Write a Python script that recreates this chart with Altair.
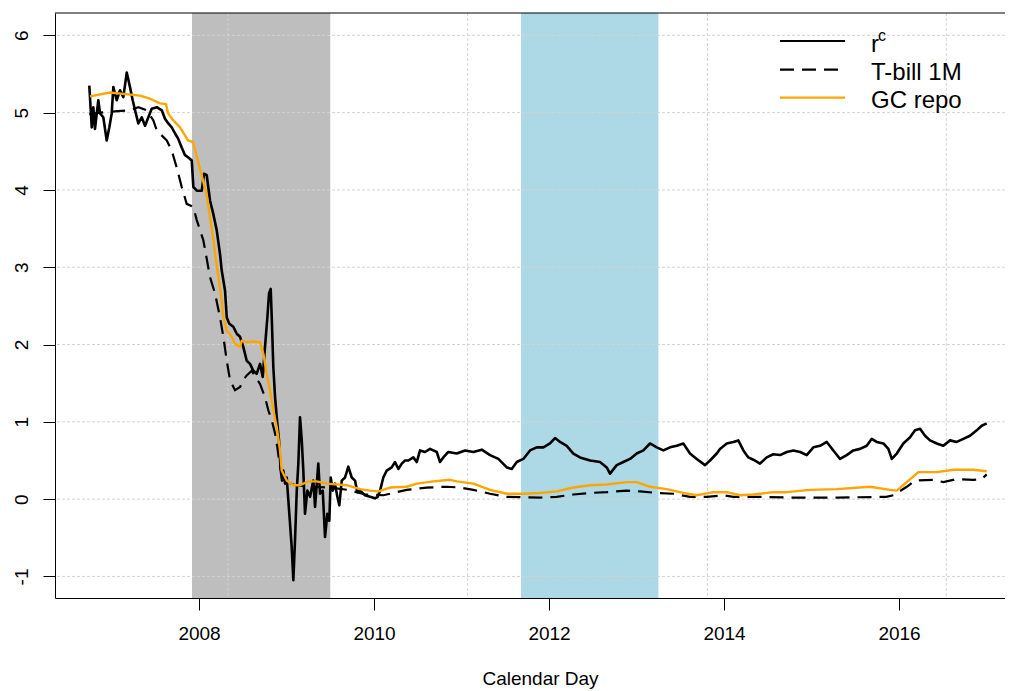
import altair as alt
import pandas as pd

# ---------------- data (decimal years, percent) ----------------
rc_x = [2006.746, 2006.774, 2006.792, 2006.811, 2006.849, 2006.869, 2006.906, 2006.945, 2006.975, 2007.002,
        2007.021, 2007.059, 2007.097, 2007.135, 2007.174, 2007.211, 2007.242, 2007.269, 2007.306, 2007.345,
        2007.383, 2007.421, 2007.459, 2007.517, 2007.574, 2007.611, 2007.649, 2007.688, 2007.726, 2007.763,
        2007.802, 2007.840, 2007.878, 2007.917, 2007.935, 2007.974, 2008.031, 2008.057, 2008.088, 2008.126,
        2008.163, 2008.202, 2008.240, 2008.259, 2008.297, 2008.317, 2008.346, 2008.392, 2008.431, 2008.469,
        2008.506, 2008.545, 2008.583, 2008.621, 2008.659, 2008.697, 2008.728, 2008.754, 2008.781, 2008.800,
        2008.819, 2008.831, 2008.849, 2008.869, 2008.888, 2008.914, 2008.931, 2008.949, 2008.963, 2008.983,
        2009.002, 2009.032, 2009.059, 2009.078, 2009.097, 2009.117, 2009.135, 2009.154, 2009.174, 2009.192,
        2009.211, 2009.238, 2009.269, 2009.306, 2009.326, 2009.363, 2009.383, 2009.414, 2009.440, 2009.466,
        2009.489, 2009.505, 2009.528, 2009.554, 2009.581, 2009.603, 2009.631, 2009.669, 2009.706, 2009.745,
        2009.783, 2009.809, 2009.840, 2009.897, 2009.954, 2010.011, 2010.042, 2010.069, 2010.106, 2010.145,
        2010.202, 2010.240, 2010.278, 2010.317, 2010.354, 2010.392, 2010.449, 2010.488, 2010.526, 2010.583,
        2010.640, 2010.717, 2010.754, 2010.792, 2010.831, 2010.849, 2010.945, 2011.040, 2011.135, 2011.231,
        2011.326, 2011.421, 2011.517, 2011.574, 2011.631, 2011.706, 2011.783, 2011.859, 2011.935, 2012.011,
        2012.069, 2012.126, 2012.202, 2012.278, 2012.354, 2012.469, 2012.583, 2012.659, 2012.697, 2012.774,
        2012.849, 2012.926, 2013.002, 2013.078, 2013.154, 2013.231, 2013.306, 2013.383, 2013.459, 2013.535,
        2013.611, 2013.688, 2013.783, 2013.840, 2013.917, 2013.954, 2014.031, 2014.106, 2014.163, 2014.221,
        2014.278, 2014.335, 2014.411, 2014.488, 2014.563, 2014.640, 2014.717, 2014.792, 2014.869, 2014.945,
        2015.021, 2015.097, 2015.174, 2015.249, 2015.326, 2015.402, 2015.478, 2015.554, 2015.631, 2015.688,
        2015.745, 2015.821, 2015.878, 2015.917, 2015.974, 2016.049, 2016.126, 2016.183, 2016.240, 2016.297,
        2016.354, 2016.431, 2016.506, 2016.583, 2016.659, 2016.735, 2016.811, 2016.888, 2016.945, 2017.002]
rc_y = [5.35, 4.81, 5.07, 4.79, 5.16, 4.99, 4.94, 4.64, 4.81, 4.99,
        5.33, 5.16, 5.29, 5.20, 5.52, 5.33, 5.16, 5.03, 4.86, 4.94,
        4.83, 4.94, 5.05, 5.07, 5.03, 4.92, 4.86, 4.81, 4.73, 4.66,
        4.55, 4.45, 4.42, 4.38, 4.04, 3.99, 3.99, 4.21, 4.19, 3.86,
        3.69, 3.48, 3.17, 2.96, 2.70, 2.35, 2.27, 2.23, 2.14, 2.10,
        1.97, 1.79, 1.75, 1.66, 1.62, 1.75, 1.58, 1.97, 2.35, 2.66,
        2.72, 2.35, 1.71, 1.32, 1.06, 0.76, 0.40, 0.24, 0.37, 0.20,
        0.28, -0.19, -0.62, -1.05, -0.53, 0.11, 0.46, 1.06, 0.76, 0.37,
        -0.19, 0.11, 0.03, 0.24, -0.10, 0.46, 0.07, 0.11, -0.49, -0.19,
        -0.28, 0.28, 0.11, 0.20, 0.03, -0.08, 0.24, 0.28, 0.42, 0.28,
        0.24, 0.09, 0.11, 0.05, 0.03, 0.01, 0.03, 0.11, 0.28, 0.37,
        0.41, 0.48, 0.39, 0.46, 0.50, 0.50, 0.54, 0.48, 0.63, 0.61,
        0.65, 0.61, 0.48, 0.54, 0.59, 0.61, 0.59, 0.63, 0.61, 0.64,
        0.57, 0.52, 0.41, 0.39, 0.48, 0.52, 0.63, 0.67, 0.67, 0.72,
        0.79, 0.74, 0.69, 0.59, 0.54, 0.50, 0.48, 0.41, 0.33, 0.44,
        0.48, 0.52, 0.59, 0.63, 0.72, 0.67, 0.63, 0.67, 0.69, 0.72,
        0.59, 0.52, 0.44, 0.50, 0.59, 0.65, 0.72, 0.74, 0.76, 0.63,
        0.54, 0.51, 0.46, 0.54, 0.58, 0.57, 0.61, 0.63, 0.61, 0.57,
        0.67, 0.69, 0.74, 0.63, 0.52, 0.57, 0.63, 0.65, 0.69, 0.78,
        0.74, 0.72, 0.65, 0.52, 0.59, 0.72, 0.80, 0.89, 0.91, 0.82,
        0.76, 0.72, 0.69, 0.76, 0.74, 0.78, 0.82, 0.89, 0.95, 0.98]

tb_x = [2006.746, 2006.870, 2006.963, 2007.211, 2007.306, 2007.402, 2007.478, 2007.517, 2007.631, 2007.688,
        2007.745, 2007.802, 2007.859, 2007.935, 2007.974, 2008.049, 2008.088, 2008.126, 2008.183, 2008.240,
        2008.278, 2008.317, 2008.354, 2008.411, 2008.469, 2008.506, 2008.545, 2008.602, 2008.697, 2008.754,
        2008.792, 2008.831, 2008.869, 2008.895, 2008.920, 2008.963, 2009.100, 2009.300, 2009.500, 2009.700,
        2009.900, 2010.106, 2010.221, 2010.374, 2010.602, 2010.831, 2010.983, 2011.135, 2011.326, 2011.517,
        2011.897, 2012.088, 2012.278, 2012.469, 2012.659, 2012.888, 2013.040, 2013.231, 2013.420, 2013.611,
        2013.802, 2013.992, 2014.106, 2014.335, 2014.800, 2015.300, 2015.854, 2015.935, 2016.088, 2016.183,
        2016.392, 2016.506, 2016.659, 2016.850, 2016.945, 2017.002]
tb_y = [4.98, 5.00, 5.01, 5.03, 5.07, 5.03, 4.90, 4.77, 4.64, 4.51,
        4.29, 4.04, 3.82, 3.78, 3.61, 3.35, 3.11, 2.87, 2.66, 2.35,
        2.10, 1.79, 1.54, 1.41, 1.45, 1.54, 1.60, 1.66, 1.49, 1.32,
        1.15, 1.02, 0.85, 0.67, 0.45, 0.24, 0.18, 0.16, 0.15, 0.12,
        0.06, 0.05, 0.08, 0.12, 0.15, 0.16, 0.15, 0.12, 0.07, 0.03,
        0.02, 0.03, 0.06, 0.08, 0.09, 0.11, 0.10, 0.08, 0.07, 0.03,
        0.03, 0.05, 0.03, 0.03, 0.02, 0.02, 0.03, 0.05, 0.16, 0.24,
        0.25, 0.22, 0.26, 0.25, 0.26, 0.32]

gc_x = [2006.754, 2006.983, 2007.326, 2007.440, 2007.554, 2007.623, 2007.646, 2007.691, 2007.783, 2007.874,
        2007.931, 2007.977, 2008.046, 2008.091, 2008.160, 2008.194, 2008.232, 2008.259, 2008.278, 2008.317,
        2008.374, 2008.411, 2008.469, 2008.488, 2008.545, 2008.621, 2008.697, 2008.735, 2008.774, 2008.811,
        2008.849, 2008.888, 2008.926, 2008.945, 2009.002, 2009.078, 2009.154, 2009.249, 2009.345, 2009.459,
        2009.688, 2009.840, 2009.954, 2010.049, 2010.183, 2010.374, 2010.488, 2010.678, 2010.869, 2010.945,
        2011.135, 2011.326, 2011.517, 2011.706, 2011.897, 2012.088, 2012.278, 2012.469, 2012.659, 2012.888,
        2013.002, 2013.154, 2013.345, 2013.535, 2013.688, 2013.878, 2014.031, 2014.183, 2014.335, 2014.563,
        2014.717, 2014.983, 2015.288, 2015.669, 2015.897, 2015.974, 2016.221, 2016.431, 2016.621, 2016.850,
        2017.002]
gc_y = [5.21, 5.26, 5.22, 5.18, 5.12, 5.11, 4.99, 4.92, 4.81, 4.64,
        4.62, 4.42, 4.12, 3.91, 3.39, 3.09, 2.79, 2.57, 2.35, 2.18,
        2.10, 2.01, 1.97, 2.05, 2.03, 2.04, 2.03, 1.88, 1.62, 1.41,
        1.15, 0.93, 0.63, 0.37, 0.24, 0.18, 0.18, 0.23, 0.23, 0.20,
        0.18, 0.13, 0.11, 0.10, 0.15, 0.16, 0.20, 0.23, 0.25, 0.23,
        0.20, 0.12, 0.07, 0.07, 0.08, 0.10, 0.15, 0.18, 0.19, 0.22,
        0.22, 0.16, 0.13, 0.08, 0.05, 0.09, 0.09, 0.05, 0.06, 0.09,
        0.09, 0.12, 0.13, 0.16, 0.12, 0.11, 0.35, 0.35, 0.38, 0.38,
        0.36]

band_start = [2007.92, 2011.68]
band_end = [2009.50, 2013.25]
band_color = ["#BEBEBE", "#ADD8E6"]

x_ticks = [2008, 2010, 2012, 2014, 2016]
y_ticks = [-1, 0, 1, 2, 3, 4, 5, 6]
x_grid = [2008.33, 2011.07, 2013.81, 2016.54]   # grid at day 14000, 15000, 16000, 17000

legend_labels = ["T-bill 1M", "GC repo"]

# ---------------- chart ----------------
FONT = "Liberation Sans"
W, H = 950, 585
xs = alt.Scale(domain=[2006.354, 2017.211], nice=False, zero=False)
ys = alt.Scale(domain=[-1.279, 6.289], nice=False, zero=False)

x_axis = alt.Axis(values=x_ticks, format="d", grid=False, domain=True, domainColor="black",
                  domainWidth=1, tickSize=12,
                  tickColor="black", labelFontSize=19, labelFont=FONT, labelColor="black",
                  labelBaseline="alphabetic", labelPadding=29, labelFlush=False,
                  title="Calendar Day", titleFont=FONT, titleFontSize=19, titleFontWeight="normal",
                  titleColor="black", titleX=485, titleY=86, titleAlign="center",
                  titleBaseline="alphabetic", titleAnchor="start")
y_axis = alt.Axis(values=y_ticks, grid=False, domain=True, domainColor="black",
                  domainWidth=1, tickSize=12, labelExpr="'' + datum.value",
                  tickColor="black", labelFontSize=19, labelFont=FONT, labelColor="black",
                  labelAngle=270, labelAlign="center", labelBaseline="alphabetic",
                  labelPadding=16, title=None)

bands = alt.Chart(pd.DataFrame({"s": band_start, "e": band_end, "c": band_color})).mark_rect().encode(
    x=alt.X("s:Q", scale=xs, axis=x_axis),
    x2="e:Q",
    y=alt.value(0),
    y2=alt.value(H),
    color=alt.Color("c:N", scale=None),
)

hgrid = alt.Chart(pd.DataFrame({"v": y_ticks})).mark_rule(
    color="#D3D3D3", strokeWidth=1, strokeDash=[3, 2]).encode(
    y=alt.Y("v:Q", scale=ys, axis=y_axis))
vgrid = alt.Chart(pd.DataFrame({"v": x_grid})).mark_rule(
    color="#D3D3D3", strokeWidth=1, strokeDash=[3, 2]).encode(
    x=alt.X("v:Q", scale=xs, axis=x_axis))

rc = alt.Chart(pd.DataFrame({"x": rc_x, "y": rc_y})).mark_line(
    color="black", strokeWidth=2.6, strokeJoin="round").encode(
    x=alt.X("x:Q", scale=xs, axis=x_axis),
    y=alt.Y("y:Q", scale=ys, axis=y_axis))
tb = alt.Chart(pd.DataFrame({"x": tb_x, "y": tb_y})).mark_line(
    color="black", strokeWidth=2.2, strokeDash=[14, 8]).encode(
    x=alt.X("x:Q", scale=xs, axis=x_axis), y=alt.Y("y:Q", scale=ys, axis=y_axis))
gc = alt.Chart(pd.DataFrame({"x": gc_x, "y": gc_y})).mark_line(
    color="#FFA500", strokeWidth=2.4, strokeJoin="round").encode(
    x=alt.X("x:Q", scale=xs, axis=x_axis), y=alt.Y("y:Q", scale=ys, axis=y_axis))

one = pd.DataFrame({"a": [0]})
top_border = alt.Chart(one).mark_rule(color="black", strokeWidth=1).encode(
    x=alt.value(0), x2=alt.value(W), y=alt.value(0))
leg_rc = alt.Chart(one).mark_rule(color="black", strokeWidth=2.2).encode(
    x=alt.value(725), x2=alt.value(790), y=alt.value(28))
leg_tb = alt.Chart(one).mark_rule(color="black", strokeWidth=2.2, strokeDash=[14, 8]).encode(
    x=alt.value(725), x2=alt.value(790), y=alt.value(56.6))
leg_gc = alt.Chart(one).mark_rule(color="#FFA500", strokeWidth=2.2).encode(
    x=alt.value(725), x2=alt.value(790), y=alt.value(84.6))
txt_r = alt.Chart(one).mark_text(font=FONT, fontSize=24, align="left", baseline="alphabetic",
                                 color="black").encode(
    x=alt.value(816), y=alt.value(39), text=alt.value("r"))
txt_c = alt.Chart(one).mark_text(font=FONT, fontSize=16, align="left", baseline="alphabetic",
                                 color="black").encode(
    x=alt.value(823), y=alt.value(28), text=alt.value("c"))
txt_tb = alt.Chart(one).mark_text(font=FONT, fontSize=24, align="left", baseline="alphabetic",
                                  color="black").encode(
    x=alt.value(816), y=alt.value(66.6), text=alt.value(legend_labels[0]))
txt_gc = alt.Chart(one).mark_text(font=FONT, fontSize=24, align="left", baseline="alphabetic",
                                  color="black").encode(
    x=alt.value(816), y=alt.value(94.8), text=alt.value(legend_labels[1]))

chart = alt.layer(
    bands, hgrid, vgrid, rc, tb, gc, top_border,
    leg_rc, leg_tb, leg_gc, txt_r, txt_c, txt_tb, txt_gc
).properties(
    width=W, height=H,
    autosize=alt.AutoSizeParams(type="none"),
    padding={"left": 47, "top": 5, "right": 0, "bottom": 95},
    background="white",
).configure_view(
    stroke=None
)

chart.save("out.html", embed_options={"renderer": "svg", "actions": False})
